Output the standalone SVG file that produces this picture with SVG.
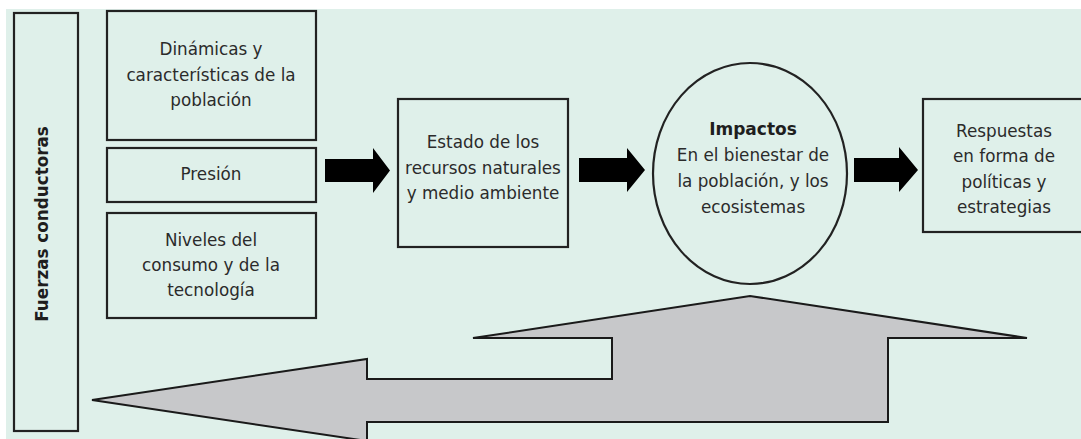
<svg xmlns="http://www.w3.org/2000/svg" width="1081" height="439" viewBox="0 0 1081 439">
<style>
.box{fill:none;stroke:#222;stroke-width:2.2}
.t{font-family:"DejaVu Sans",Verdana,sans-serif;font-size:16.8px;fill:#2b2b2b;text-anchor:middle}
.b{font-weight:bold;fill:#1e1e1e}
.arr{fill:#000}
</style>
<rect x="0" y="0" width="1081" height="439" fill="#fff"/>
<rect x="6" y="9" width="1075" height="430" fill="#DFF0EA"/>
<g id="connectors">
<polygon class="arr" points="325,159 373,159 373,148 390,170.5 373,193 373,182 325,182"/>
<polygon class="arr" points="579,158 627,158 627,148 645,170 627,192 627,182 579,182"/>
<polygon class="arr" points="854,158 899,158 899,147 918,170 899,192 899,182 854,182"/>
<polygon points="92,400 367,359 367,379 612,379 612,338 473,338 750,296 1027,338 888,338 888,422 367,422 367,441 92,400" fill="#C7C8CA" stroke="#1a1a1a" stroke-width="2" stroke-linejoin="miter"/>
</g>
<g id="fuerzas">
<rect class="box" x="14" y="13" width="64" height="418"/>
<text class="t b" transform="translate(48,224) rotate(-90)">Fuerzas conductoras</text>
</g>
<g id="dinamicas">
<rect class="box" x="107" y="11" width="209" height="129"/>
<text class="t" x="211" y="55">Dinámicas y</text>
<text class="t" x="211" y="81">características de la</text>
<text class="t" x="211" y="106">población</text>
</g>
<g id="presion">
<rect class="box" x="107" y="148" width="209" height="54"/>
<text class="t" x="211" y="180">Presión</text>
</g>
<g id="niveles">
<rect class="box" x="107" y="213" width="209" height="105"/>
<text class="t" x="211" y="246">Niveles del</text>
<text class="t" x="211" y="271">consumo y de la</text>
<text class="t" x="211" y="296">tecnología</text>
</g>
<g id="estado">
<rect class="box" x="398" y="99" width="170" height="148"/>
<text class="t" x="483" y="148">Estado de los</text>
<text class="t" x="483" y="174">recursos naturales</text>
<text class="t" x="483" y="199">y medio ambiente</text>
</g>
<g id="impactos">
<ellipse class="box" cx="750" cy="173.5" rx="97" ry="110.5"/>
<text class="t b" x="753" y="135" style="font-size:17px">Impactos</text>
<text class="t" x="753" y="161">En el bienestar de</text>
<text class="t" x="753" y="187">la población, y los</text>
<text class="t" x="753" y="213">ecosistemas</text>
</g>
<g id="respuestas">
<rect class="box" x="923" y="99" width="170" height="133"/>
<text class="t" x="1004" y="137">Respuestas</text>
<text class="t" x="1004" y="162">en forma de</text>
<text class="t" x="1004" y="188">políticas y</text>
<text class="t" x="1004" y="213">estrategias</text>
</g>
</svg>
